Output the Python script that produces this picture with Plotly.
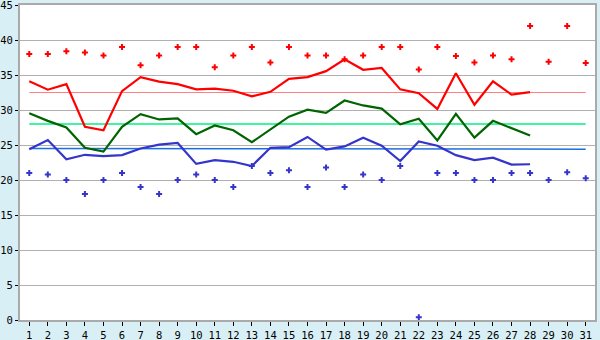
import plotly.graph_objects as go

days = list(range(1, 32))
days28 = list(range(1, 29))

max_avg = [34.1, 32.9, 33.7, 27.6, 27.1, 32.7, 34.7, 34.05, 33.7, 32.95,
           33.05, 32.75, 31.95, 32.6, 34.45, 34.7, 35.55, 37.25, 35.75, 36.0,
           32.95, 32.4, 30.15, 35.25, 30.75, 34.1, 32.2, 32.55]
mid_avg = [29.55, 28.45, 27.5, 24.6, 24.05, 27.6, 29.4, 28.65, 28.8, 26.55,
           27.8, 27.1, 25.4, 27.2, 29.05, 30.05, 29.6, 31.35, 30.65, 30.2,
           27.95, 28.75, 25.65, 29.45, 26.05, 28.45, 27.4, 26.35]
min_avg = [24.4, 25.7, 22.95, 23.6, 23.4, 23.55, 24.5, 25.05, 25.3, 22.3,
           22.85, 22.6, 22.0, 24.6, 24.7, 26.15, 24.35, 24.8, 26.05, 24.9,
           22.7, 25.5, 24.9, 23.55, 22.85, 23.2, 22.2, 22.25]

rec_high = [38, 38, 38.4, 38.2, 37.8, 39, 36.4, 37.8, 39, 39,
            36.1, 37.8, 39, 36.8, 39, 37.8, 37.8, 37.25, 37.8, 39,
            39, 35.8, 39, 37.7, 36.8, 37.8, 37.25, 42, 36.9, 42, 36.7]
rec_low = [21, 20.8, 20, 18, 20, 21, 19, 18, 20, 20.8,
           20, 19, 22, 21, 21.4, 19, 21.8, 19, 20.8, 20,
           22, 0.4, 21, 21, 20, 20, 21, 21, 20, 21.1, 20.25]

ref_max = [32.5] * 31
ref_mid = [28.0] * 31
ref_min = [24.5] * 3 + [24.4] * 28

fig = go.Figure()

fig.add_trace(go.Scatter(x=days, y=ref_max, mode="lines",
                         line=dict(color="#ff8080", width=1.2), hoverinfo="skip"))
fig.add_trace(go.Scatter(x=days, y=ref_mid, mode="lines",
                         line=dict(color="#00f080", width=1.5), hoverinfo="skip"))
fig.add_trace(go.Scatter(x=days, y=ref_min, mode="lines",
                         line=dict(color="#1a70e0", width=1.5), hoverinfo="skip"))

fig.add_trace(go.Scatter(x=days28, y=max_avg, mode="lines",
                         line=dict(color="#ff0000", width=2.2)))
fig.add_trace(go.Scatter(x=days28, y=mid_avg, mode="lines",
                         line=dict(color="#006400", width=2.2)))
fig.add_trace(go.Scatter(x=days28, y=min_avg, mode="lines",
                         line=dict(color="#3535cc", width=2.2)))

fig.add_trace(go.Scatter(x=days, y=rec_high, mode="markers",
                         marker=dict(symbol="cross", size=5, color="#ff0000",
                                     line=dict(width=0))))
fig.add_trace(go.Scatter(x=days, y=rec_low, mode="markers",
                         marker=dict(symbol="cross", size=5, color="#3535cc",
                                     line=dict(width=0))))

fig.update_layout(
    width=600, height=340,
    margin=dict(l=20, r=5, t=5, b=20, autoexpand=False),
    paper_bgcolor="#d9eff6",
    plot_bgcolor="#ffffff",
    showlegend=False,
    font=dict(family="DejaVu Sans Mono", size=10.5, color="#000000"),
)
fig.update_xaxes(
    range=[0.5, 31.5], tickmode="array", tickvals=days,
    ticktext=[str(d) for d in days], automargin=False,
    ticklabeloverflow="allow", ticklabelstandoff=0,
    showgrid=False, zeroline=False,
    showline=True, linecolor="#aaaaaa", linewidth=2, mirror=True,
    ticks="outside", ticklen=4, tickcolor="#000000", tickwidth=1,
)
fig.update_yaxes(
    range=[0, 45], tickmode="array", tickvals=list(range(0, 50, 5)),
    automargin=False, ticklabeloverflow="allow",
    showgrid=True, gridcolor="#b0b0b0", gridwidth=1, zeroline=False,
    showline=True, linecolor="#aaaaaa", linewidth=2, mirror=True,
    ticks="outside", ticklen=3, tickcolor="#000000", tickwidth=1,
)

fig.write_html("out.html")
